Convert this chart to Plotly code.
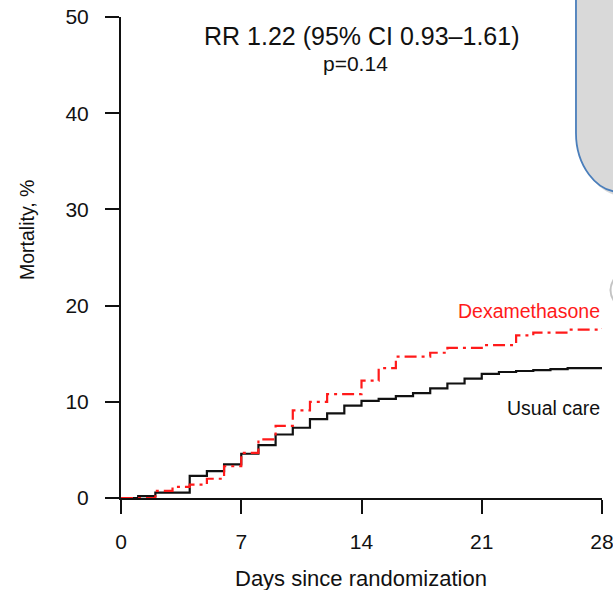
import plotly.graph_objects as go

# ---- data ----
usual_days = [0, 1, 2, 4, 5, 6, 7, 8, 9, 10, 11, 12, 13, 14, 15, 16, 17, 18, 19, 20, 21, 22, 23, 24, 25, 26, 28]
usual_mort = [0, 0.2, 0.55, 2.3, 2.8, 3.5, 4.6, 5.5, 6.6, 7.3, 8.2, 8.8, 9.6, 10.1, 10.3, 10.6, 10.9, 11.4, 11.9, 12.4, 12.9, 13.1, 13.2, 13.3, 13.4, 13.5, 13.5]

dexa_days = [0, 2, 3, 4, 5, 6, 7, 8, 9, 10, 11, 12, 14, 15, 16, 18, 19, 21, 23, 24, 26, 28]
dexa_mort = [0, 0.75, 1.15, 1.4, 2.0, 3.3, 4.7, 6.1, 7.5, 9.1, 10.0, 10.8, 12.2, 13.5, 14.7, 15.1, 15.6, 15.9, 16.9, 17.2, 17.5, 17.6]

x_ticks = [0, 7, 14, 21, 28]
y_ticks = [0, 10, 20, 30, 40, 50]

W, H = 613, 590
ML, MR, MT, MB = 121, 11, 17, 92
PW = W - ML - MR
PH = H - MT - MB
FONT = "Liberation Sans, Arial, Helvetica, sans-serif"


def px(x):
    return (x - ML) / PW


def py(y):
    return (H - MB - y) / PH


def path(points_cmds):
    out = []
    for cmd, pts in points_cmds:
        s = cmd
        if pts:
            s += " " + " ".join(f"{px(a):.4f},{py(b):.4f}" for a, b in pts)
        out.append(s)
    return " ".join(out)


fig = go.Figure()
fig.add_trace(go.Scatter(
    x=usual_days, y=usual_mort, mode="lines", line_shape="hv",
    line=dict(color="#111111", width=2.2), name="Usual care", showlegend=False))
fig.add_trace(go.Scatter(
    x=dexa_days, y=dexa_mort, mode="lines", line_shape="hv",
    line=dict(color="#ff1a1a", width=2.2, dash="12px,5px,3px,5px"),
    name="Dexamethasone", showlegend=False))

box = [("M", [(576, -20)]), ("L", [(576, 133)]),
       ("C", [(576, 165), (596, 192), (620, 192)]),
       ("L", [(650, 192)]), ("L", [(650, -20)]), ("Z", [])]
shadow = [("M", [(579, -20)]), ("L", [(579, 137)]),
          ("C", [(579, 169), (599, 196), (623, 196)]),
          ("L", [(650, 196)]), ("L", [(650, -20)]), ("Z", [])]
small = [("M", [(614, 279)]), ("Q", [(607, 290), (614, 301)])]

shapes = [
    dict(type="path", xref="paper", yref="paper", path=path(shadow),
         fillcolor="rgba(0,0,0,0.15)", line=dict(width=0), layer="above"),
    dict(type="path", xref="paper", yref="paper", path=path(box),
         fillcolor="#d9d9d9", line=dict(color="#4a7ebb", width=1.8), layer="above"),
    dict(type="path", xref="paper", yref="paper", path=path(small),
         line=dict(color="#c4c4c4", width=2), layer="above"),
]

annotations = [
    dict(text="RR 1.22 (95% CI 0.93\u20131.61)", x=px(361), y=py(36), xref="paper", yref="paper",
         showarrow=False, xanchor="center", yanchor="middle", font=dict(size=25, color="#111", family=FONT)),
    dict(text="p=0.14", x=px(355), y=py(63), xref="paper", yref="paper",
         showarrow=False, xanchor="center", yanchor="middle", font=dict(size=21, color="#111", family=FONT)),
    dict(text="Dexamethasone", x=px(602), y=py(311), xref="paper", yref="paper",
         showarrow=False, xanchor="right", yanchor="middle", font=dict(size=19.5, color="#ff1a1a", family=FONT)),
    dict(text="Usual care", x=px(602), y=py(408), xref="paper", yref="paper",
         showarrow=False, xanchor="right", yanchor="middle", font=dict(size=19.5, color="#111", family=FONT)),
    dict(text="Mortality, %", x=px(27), y=py(230), xref="paper", yref="paper", textangle=-90,
         showarrow=False, xanchor="center", yanchor="middle", font=dict(size=19.5, color="#111", family=FONT)),
    dict(text="Days since randomization", x=px(361), y=py(578), xref="paper", yref="paper",
         showarrow=False, xanchor="center", yanchor="middle", font=dict(size=22, color="#111", family=FONT)),
]

axis_common = dict(showgrid=False, zeroline=False, showline=True, linecolor="#111", linewidth=2,
                   ticks="outside", ticklen=14, tickwidth=2, tickcolor="#111", automargin=False,
                   ticklabeloverflow="allow",
                   tickfont=dict(size=21, color="#111", family=FONT), fixedrange=True)

fig.update_layout(
    width=W, height=H, margin=dict(l=ML, r=MR, t=MT, b=MB, pad=0, autoexpand=False),
    plot_bgcolor="white", paper_bgcolor="white",
    xaxis=dict(range=[0, 28], tickvals=x_ticks, ticktext=[str(v) for v in x_ticks],
               ticklabelstandoff=10, **axis_common),
    yaxis=dict(range=[0, 50], tickvals=y_ticks, ticktext=[str(v) for v in y_ticks],
               ticklabelstandoff=12, **axis_common),
    shapes=shapes, annotations=annotations, showlegend=False,
)

fig.write_html("out.html")
